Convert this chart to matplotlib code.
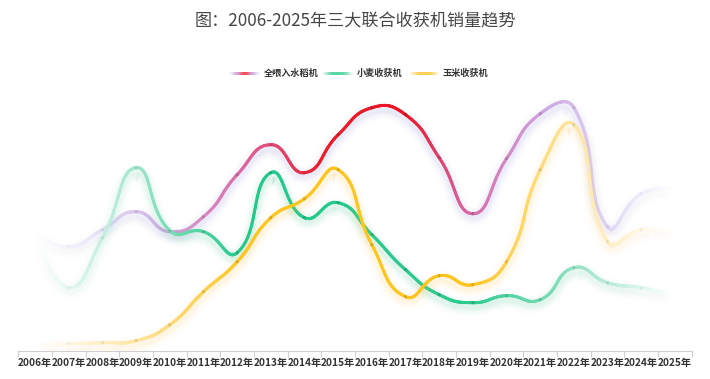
import numpy as np
import matplotlib
matplotlib.use('Agg')
import matplotlib.pyplot as plt
from matplotlib.collections import LineCollection
from matplotlib.colors import to_rgb

plt.rcParams['font.family'] = ['Noto Sans CJK SC', 'DejaVu Sans']

# ---------------- data ----------------
years = ['2006年', '2007年', '2008年', '2009年', '2010年', '2011年', '2012年',
         '2013年', '2014年', '2015年', '2016年', '2017年', '2018年', '2019年',
         '2020年', '2021年', '2022年', '2023年', '2024年', '2025年']
rice = [118, 104, 121, 139, 119, 134, 176, 206, 178, 216,
        243, 236, 193, 137, 192, 237, 243, 124, 157, 162]
wheat = [119, 63, 113, 183, 120, 119, 98, 178, 133, 148,
         116, 81, 56, 48, 55, 51, 83, 68, 63, 56]
corn = [6, 7, 8, 10, 26, 59, 89, 133, 152, 181,
        106, 54, 75, 66, 89, 181, 226, 109, 121, 118]
names = ['全喂入水稻机', '小麦收获机', '玉米收获机']
title = '图：2006-2025年三大联合收获机销量趋势'

# ---------------- styles ----------------
rice_stops = [(0.0, '#cfc6f6', 0.0), (0.08, '#cdbff2', 0.35), (0.18, '#c8a6e6', 0.8),
              (0.32, '#dc6aa6', 1.0), (0.45, '#ec1c2c', 1.0), (0.58, '#ec1424', 1.0),
              (0.68, '#d86aa8', 1.0), (0.8, '#c89ede', 0.9), (0.9, '#cbbcf2', 0.6),
              (1.0, '#d0c8f6', 0.0)]
wheat_stops = [(0.0, '#a8ecd2', 0.0), (0.08, '#9ae6ca', 0.45), (0.18, '#74dab2', 0.8),
               (0.32, '#22c98a', 1.0), (0.68, '#2ccb8e', 1.0), (0.82, '#6ad8ae', 0.85),
               (0.92, '#98e4c6', 0.55), (1.0, '#b0ecd4', 0.0)]
corn_stops = [(0.0, '#ffe9a8', 0.0), (0.08, '#ffe49a', 0.45), (0.18, '#ffd870', 0.8),
              (0.32, '#ffc51f', 1.0), (0.68, '#ffc51f', 1.0), (0.82, '#ffd770', 0.8),
              (0.92, '#ffe6a0', 0.5), (1.0, '#ffeeb8', 0.0)]
glow_colors = ['#8c8cf2', '#3ccf94', '#ffcf3a']

W, H, DPI = 7.1, 3.79, 100
fig = plt.figure(figsize=(W, H), dpi=DPI)
fig.patch.set_facecolor('white')
ax_left_px, ax_right_px, ax_bot_px, ax_top_px = 18.3, 691.7, 350.7, 90
ax = fig.add_axes([ax_left_px / 710, (379 - ax_bot_px) / 379,
                   (ax_right_px - ax_left_px) / 710, (ax_bot_px - ax_top_px) / 379])
n = len(years)
ymax = 260.7
ax.set_xlim(-0.5, n - 0.5)
ax.set_ylim(0, ymax)
px_x = (ax_right_px - ax_left_px) / n     # pixels per category
px_y = (ax_bot_px - ax_top_px) / ymax     # pixels per unit
pt_per_px = 72 / DPI


def grad_color(stops, f):
    fs = [s[0] for s in stops]
    cols = np.array([to_rgb(s[1]) for s in stops])
    al = [s[2] for s in stops]
    c = np.column_stack([np.interp(f, fs, cols[:, k]) for k in range(3)])
    a = np.interp(f, fs, al)
    return c, a


def smooth_curve(vals, smooth=0.5, per=40):
    P = np.column_stack([np.arange(len(vals)) * px_x, np.asarray(vals, float) * px_y])
    N = len(P)
    cin = P.copy(); cout = P.copy()
    for i in range(1, N - 1):
        prev, p, nxt = P[i - 1], P[i], P[i + 1]
        v = nxt - prev
        l0 = np.hypot(*(p - prev)); l1 = np.hypot(*(nxt - p))
        r = l1 / (l0 + l1) if (l0 + l1) > 0 else 0.5
        cin[i] = p - v * smooth * (1 - r)
        cout[i] = p + v * smooth * r
    t = np.linspace(0, 1, per, endpoint=False)[:, None]
    out = []
    for i in range(N - 1):
        p0, p1, p2, p3 = P[i], cout[i], cin[i + 1], P[i + 1]
        b = ((1 - t) ** 3) * p0 + 3 * ((1 - t) ** 2) * t * p1 + 3 * (1 - t) * t ** 2 * p2 + t ** 3 * p3
        out.append(b)
    out.append(P[-1:])
    out = np.vstack(out)
    return out[:, 0] / px_x, out[:, 1] / px_y


def draw_series(vals, stops, glow, z):
    x, y = smooth_curve(vals)
    f = (x - x.min()) / (x.max() - x.min())
    fm = 0.5 * (f[:-1] + f[1:])
    c, a = grad_color(stops, fm)
    pts = np.column_stack([x, y]).reshape(-1, 1, 2)
    segs = np.concatenate([pts[:-1], pts[1:]], axis=1)
    # glow (shadow) below
    gc = np.array(to_rgb(glow))
    off = 4 / px_y
    gsegs = segs.copy(); gsegs[:, :, 1] -= off
    for wpx, al in [(18, 0.025), (13, 0.035), (9, 0.045), (6, 0.05)]:
        cols = np.column_stack([np.tile(gc, (len(fm), 1)), a * al])
        lc = LineCollection(gsegs, colors=cols, linewidths=wpx * pt_per_px,
                            capstyle='butt', zorder=z)
        ax.add_collection(lc)
    # main line (opaque blend with white)
    cb = c * a[:, None] + (1 - a[:, None])
    lc = LineCollection(segs, colors=cb, linewidths=3 * pt_per_px,
                        capstyle='round', joinstyle='round', zorder=z + 1)
    ax.add_collection(lc)
    # point symbols
    xi = np.arange(len(vals))
    fi = (xi - xi.min()) / (xi.max() - xi.min())
    ci, ai = grad_color(stops, fi)
    cd = ci * 0.85
    cdb = cd * ai[:, None] + (1 - ai[:, None])
    ax.scatter(xi, vals, s=5, c=cdb, edgecolors='none', zorder=z + 2)


draw_series(rice, rice_stops, glow_colors[0], 2)
draw_series(wheat, wheat_stops, glow_colors[1], 5)
draw_series(corn, corn_stops, glow_colors[2], 8)

# axes styling
for s in ['top', 'right', 'left']:
    ax.spines[s].set_visible(False)
ax.spines['bottom'].set_color('#cfcfcf')
ax.spines['bottom'].set_linewidth(0.8)
ax.set_yticks([])
ax.set_xticks(np.arange(n))
ax.set_xticklabels(years, fontsize=7.3, fontweight='bold', color='#333333')
ax.tick_params(axis='x', which='major', length=0, pad=5)
ax.set_xticks(np.arange(n + 1) - 0.5, minor=True)
ax.tick_params(axis='x', which='minor', length=4, color='#cfcfcf', width=0.8)
ax.set_facecolor('none')

# title
fig.text(355 / 710, 1 - 21.5 / 379, title, ha='center', va='center',
         fontsize=12.3, color='#464646')

# legend
leg_y = 1 - 73.3 / 379
items = [(229, 264), (322, 357), (409, 443)]
all_stops = [rice_stops, wheat_stops, corn_stops]
for (lx, tx), nm, st in zip(items, names, all_stops):
    xs = np.linspace(lx, lx + 30, 80)
    f = (xs - xs.min()) / (xs.max() - xs.min())
    fm = 0.5 * (f[:-1] + f[1:])
    c, a = grad_color(st, fm)
    a = np.clip(a * 1.0 + 0.15, 0, 1)
    cb = c * a[:, None] + (1 - a[:, None])
    pts = np.column_stack([xs / 710, np.full_like(xs, leg_y)]).reshape(-1, 1, 2)
    segs = np.concatenate([pts[:-1], pts[1:]], axis=1)
    lc = LineCollection(segs, colors=cb, linewidths=3 * pt_per_px,
                        capstyle='butt', transform=fig.transFigure)
    fig.add_artist(lc)
    fig.text(tx / 710, leg_y, nm, ha='left', va='center', fontsize=6.6,
             fontweight='bold', color='#333333')

fig.savefig('out.png', dpi=DPI, facecolor='white')
